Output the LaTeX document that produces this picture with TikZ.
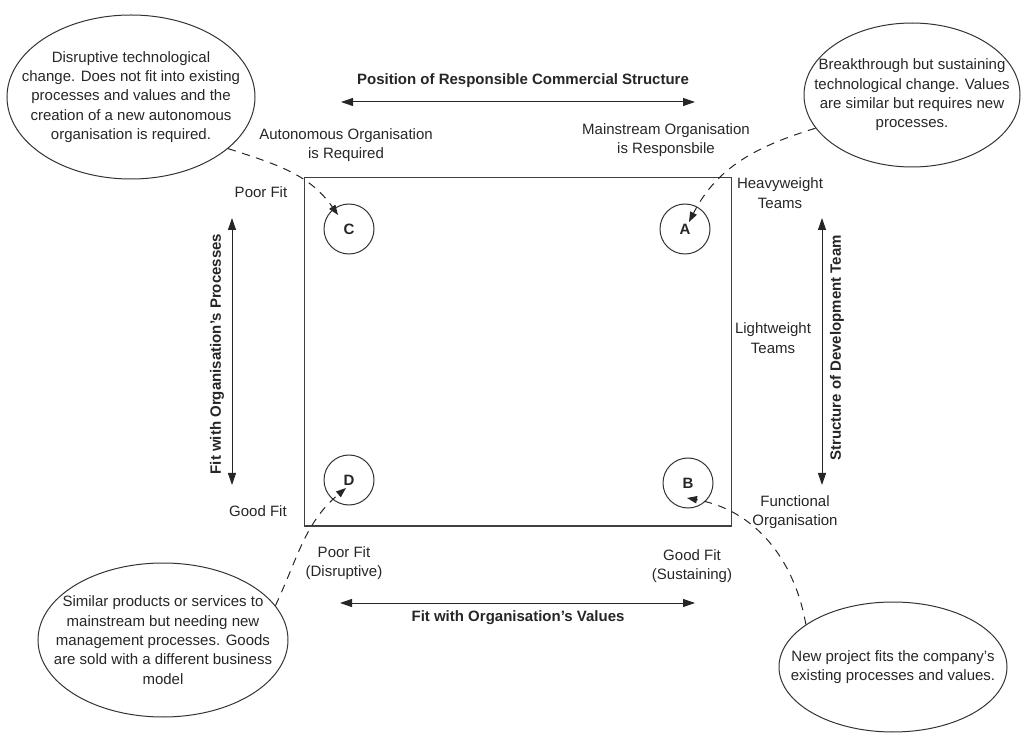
\documentclass[tikz,border=0pt]{standalone}
\usepackage{fontspec}
\setmainfont{Liberation Sans}
\usetikzlibrary{arrows.meta,shapes.geometric}
\begin{document}
\begin{tikzpicture}[x=0.75pt,y=0.75pt,
  txt/.style={font=\fontsize{11.25}{14.5}\selectfont, align=center, inner sep=0pt, text=black!85},
  heading/.style={txt, font=\fontsize{11.25}{14.5}\selectfont\bfseries},
  oval/.style={ellipse, draw=black!80, line width=0.75pt, inner sep=0pt},
  spot/.style={circle, draw=black!80, line width=0.75pt, minimum size=37.5pt, inner sep=0pt,
               font=\fontsize{11.25}{14.5}\selectfont\bfseries, text=black!85},
  axis/.style={{Triangle[length=9pt,width=6pt]}-{Triangle[length=9pt,width=6pt]}, line width=0.75pt, draw=black!85},
  pointer/.style={-{Triangle[length=7.5pt,width=5.5pt]}, line width=0.75pt, dash pattern=on 6pt off 5pt, draw=black!85},
]
\useasboundingbox (0,0) rectangle (1022,733);

% the matrix frame
\draw[draw=black!75, line width=0.75pt] (304,207) rectangle (731,555);

% quadrant markers
\node[spot] (C) at (349,504) {C};
\node[spot] (A) at (685,504) {A};
\node[spot] (D) at (349,253) {D};
\node[spot] (B) at (688,250) {B};

% horizontal axis: commercial structure (top)
\coordinate (tl) at (341,631);
\coordinate (tr) at (695,631);
\draw[axis] (tl) -- (tr);
\node[heading] (toptitle) at (523,652) {Position of Responsible Commercial Structure};
\node[txt] (auto) at (346,588) {Autonomous Organisation\\is Required};
\node[txt] (main) at (666,593) {Mainstream Organisation\\is Responsbile};

% horizontal axis: values (bottom)
\coordinate (bl) at (340,130);
\coordinate (br) at (695,130);
\draw[axis] (bl) -- (br);
\node[heading] (bottitle) at (518,115) {Fit with Organisation’s Values};
\node[txt] (poorv) at (344,170) {Poor Fit\\(Disruptive)};
\node[txt] (goodv) at (692,167) {Good Fit\\(Sustaining)};

% vertical axis: processes (left)
\coordinate (lt) at (232,515);
\coordinate (lb) at (232,248);
\draw[axis] (lt) -- (lb);
\node[heading, rotate=90] (lefttitle) at (217,379) {Fit with Organisation’s Processes};
\node[txt] (poorp) at (261,541) {Poor Fit};
\node[txt] (goodp) at (258,222) {Good Fit};

% vertical axis: development team (right)
\coordinate (rt) at (822,515);
\coordinate (rb) at (822,248);
\draw[axis] (rt) -- (rb);
\node[heading, rotate=90] (righttitle) at (837,385) {Structure of Development Team};
\node[txt] (heavy) at (780,540) {Heavyweight\\Teams};
\node[txt] (light) at (773,395) {Lightweight\\Teams};
\node[txt] (func) at (795,221) {Functional\\Organisation};

% explanatory ovals
\node[oval, minimum width=186pt, minimum height=123pt] (e1) at (131,636) {};
\node[txt] (e1t) at (e1.center) {Disruptive technological\\change. Does not fit into existing\\processes and values and the\\creation of a new autonomous\\organisation is required.};

\node[oval, minimum width=162pt, minimum height=108pt] (e2) at (912,638) {};
\node[txt] (e2t) at (e2.center) {Breakthrough but sustaining\\technological change. Values\\are similar but requires new\\processes.};

\node[oval, minimum width=187.5pt, minimum height=115.5pt] (e3) at (163,93) {};
\node[txt] (e3t) at (e3.center) {Similar products or services to\\mainstream but needing new\\management processes. Goods\\are sold with a different business\\model};

\node[oval, minimum width=171pt, minimum height=97.5pt] (e4) at (893,66) {};
\node[txt] (e4t) at (e4.center) {New project fits the company’s\\existing processes and values.};

% dashed pointers from ovals to markers
\draw[pointer] (e1.-28) to[out=-18,in=125] ([xshift=-8.25pt,yshift=10.5pt]C.center);
\draw[pointer] (e2.199) to[out=197,in=63] ([xshift=3pt,yshift=5.25pt]A.center);
\draw[pointer] (e3.17) to[out=65,in=220] ([xshift=-2.25pt,yshift=-6pt]D.center);
\draw[pointer] (e4.154) to[out=100,in=-10] ([xshift=-0.75pt,yshift=-11.25pt]B.center);
\end{tikzpicture}
\end{document}
